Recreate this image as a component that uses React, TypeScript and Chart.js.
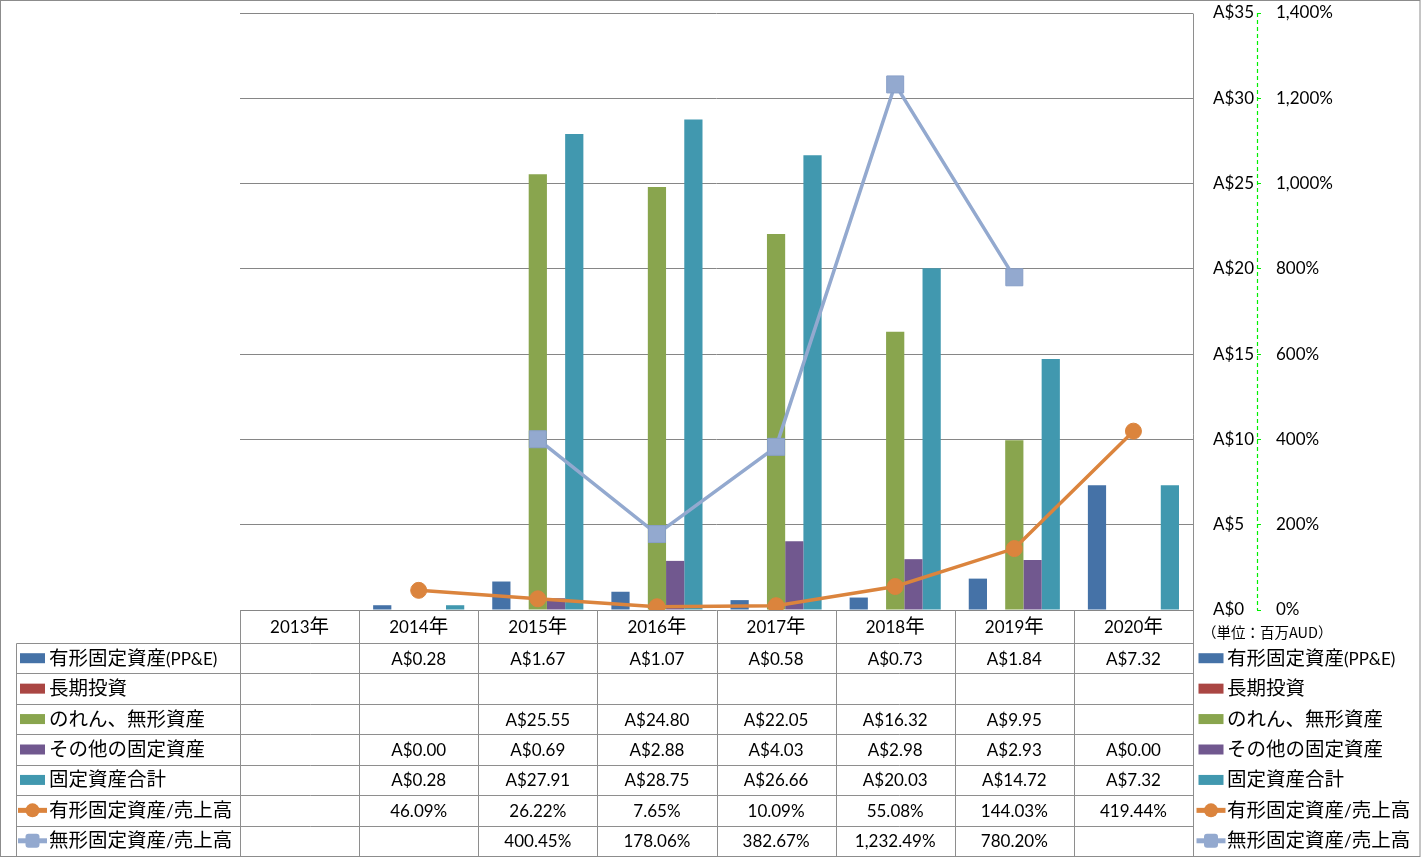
import React, { useEffect, useRef } from 'react';
import { Chart, registerables } from 'chart.js';

Chart.register(...registerables);

const categories = ['2013年', '2014年', '2015年', '2016年', '2017年', '2018年', '2019年', '2020年'];
const ppeValues: (number | null)[] = [null, 0.28, 1.67, 1.07, 0.58, 0.73, 1.84, 7.32];
const longTermInvValues: (number | null)[] = [null, null, null, null, null, null, null, null];
const goodwillValues: (number | null)[] = [null, null, 25.55, 24.8, 22.05, 16.32, 9.95, null];
const otherFixedValues: (number | null)[] = [null, 0.0, 0.69, 2.88, 4.03, 2.98, 2.93, 0.0];
const totalFixedValues: (number | null)[] = [null, 0.28, 27.91, 28.75, 26.66, 20.03, 14.72, 7.32];
const ppeRatioValues: (number | null)[] = [null, 46.09, 26.22, 7.65, 10.09, 55.08, 144.03, 419.44];
const intangibleRatioValues: (number | null)[] = [null, null, 400.45, 178.06, 382.67, 1232.49, 780.2, null];

const seriesNames = [
  '有形固定資産(PP&E)',
  '長期投資',
  'のれん、無形資産',
  'その他の固定資産',
  '固定資産合計',
  '有形固定資産/売上高',
  '無形固定資産/売上高',
];
const seriesColors = ['#4572A7', '#AA4643', '#89A54E', '#71588F', '#4198AF', '#DB843D', '#93A9CF'];
const unitLabel = '（単位：百万AUD）';

const LATIN = 'Lato, "Liberation Sans", sans-serif';
const CJK = '"Noto Sans CJK JP", sans-serif';
const LATIN_SIZE = 17;
const CJK_SIZE = 19.5;
const AXIS_GREEN = '#00F000';

const fmtMoney = (v: number) => 'A$' + v.toFixed(2);
const fmtPct = (v: number) =>
  v.toLocaleString('en-US', { minimumFractionDigits: 2, maximumFractionDigits: 2 }) + '%';

type Row = { name: string; color: string; kind: 'bar' | 'line'; marker?: 'circle' | 'rect'; values: (number | null)[]; fmt: (v: number) => string };

const rows: Row[] = [
  { name: seriesNames[0], color: seriesColors[0], kind: 'bar', values: ppeValues, fmt: fmtMoney },
  { name: seriesNames[1], color: seriesColors[1], kind: 'bar', values: longTermInvValues, fmt: fmtMoney },
  { name: seriesNames[2], color: seriesColors[2], kind: 'bar', values: goodwillValues, fmt: fmtMoney },
  { name: seriesNames[3], color: seriesColors[3], kind: 'bar', values: otherFixedValues, fmt: fmtMoney },
  { name: seriesNames[4], color: seriesColors[4], kind: 'bar', values: totalFixedValues, fmt: fmtMoney },
  { name: seriesNames[5], color: seriesColors[5], kind: 'line', marker: 'circle', values: ppeRatioValues, fmt: fmtPct },
  { name: seriesNames[6], color: seriesColors[6], kind: 'line', marker: 'rect', values: intangibleRatioValues, fmt: fmtPct },
];

const isCJK = (ch: string) => /[\u3000-\u9fff\uff00-\uffef]/.test(ch);

function drawMixed(ctx: CanvasRenderingContext2D, text: string, x: number, cy: number, align: 'left' | 'center') {
  const runs: { t: string; cjk: boolean }[] = [];
  for (const ch of text) {
    const c = isCJK(ch);
    if (runs.length && runs[runs.length - 1].cjk === c) runs[runs.length - 1].t += ch;
    else runs.push({ t: ch, cjk: c });
  }
  const fontOf = (c: boolean) => (c ? `${CJK_SIZE}px ${CJK}` : `${LATIN_SIZE}px ${LATIN}`);
  let total = 0;
  const widths = runs.map((r) => {
    ctx.font = fontOf(r.cjk);
    const w = ctx.measureText(r.t).width;
    total += w;
    return w;
  });
  let cx = align === 'center' ? x - total / 2 : x;
  ctx.textAlign = 'left';
  ctx.textBaseline = 'alphabetic';
  runs.forEach((r, i) => {
    ctx.font = fontOf(r.cjk);
    ctx.fillText(r.t, cx, cy + 6.5);
    cx += widths[i];
  });
}

function drawKey(ctx: CanvasRenderingContext2D, row: Row, cx: number, cy: number) {
  ctx.save();
  if (row.kind === 'bar') {
    ctx.fillStyle = row.color;
    ctx.fillRect(cx - 12.5, cy - 5, 25, 10);
  } else {
    ctx.strokeStyle = row.color;
    ctx.lineWidth = 5;
    ctx.beginPath();
    ctx.moveTo(cx - 14.5, cy);
    ctx.lineTo(cx + 14.5, cy);
    ctx.stroke();
    ctx.fillStyle = row.color;
    ctx.beginPath();
    if (row.marker === 'circle') {
      ctx.arc(cx, cy, 7, 0, Math.PI * 2);
    } else {
      const s = 7;
      const r = 3;
      ctx.moveTo(cx - s + r, cy - s);
      ctx.arcTo(cx + s, cy - s, cx + s, cy + s, r);
      ctx.arcTo(cx + s, cy + s, cx - s, cy + s, r);
      ctx.arcTo(cx - s, cy + s, cx - s, cy - s, r);
      ctx.arcTo(cx - s, cy - s, cx + s, cy - s, r);
      ctx.closePath();
    }
    ctx.fill();
  }
  ctx.restore();
}

const tablePlugin = {
  id: 'dataTable',
  afterDraw(chart: any) {
    const { ctx, chartArea: ca, scales } = chart;
    const xs = scales.x;
    const n = categories.length;
    const colW = (ca.right - ca.left) / n;
    const tableTop = ca.bottom;
    const headerBottom = tableTop + 33;
    const tableBottom = 856;
    const rowH = (tableBottom - headerBottom) / rows.length;
    const tableLeft = 16;

    ctx.save();
    // secondary axis dashed line
    const ax = Math.round(scales.y1.left) + 0.5;
    ctx.strokeStyle = AXIS_GREEN;
    ctx.lineWidth = 1.2;
    ctx.setLineDash([4, 3]);
    ctx.beginPath();
    ctx.moveTo(ax, ca.top);
    ctx.lineTo(ax, ca.bottom);
    ctx.stroke();
    ctx.setLineDash([]);

    ctx.strokeStyle = '#8E8E8E';
    ctx.lineWidth = 1;
    ctx.beginPath();
    for (let k = 0; k <= n; k++) {
      const x = Math.round(ca.left + k * colW) + 0.5;
      ctx.moveTo(x, k === n ? Math.round(ca.top) + 0.5 : tableTop);
      ctx.lineTo(x, tableBottom);
    }
    for (let i = 0; i < rows.length; i++) {
      const y = Math.round(headerBottom + i * rowH) + 0.5;
      ctx.moveTo(tableLeft + 0.5, y);
      ctx.lineTo(Math.round(ca.right) + 0.5, y);
    }
    ctx.moveTo(tableLeft + 0.5, Math.round(headerBottom) + 0.5);
    ctx.lineTo(tableLeft + 0.5, tableBottom);
    ctx.stroke();

    // outer border
    ctx.strokeStyle = '#8C8C8C';
    ctx.strokeRect(0.5, 0.5, 1419.5, 856);

    ctx.fillStyle = '#000';
    const headerCy = (tableTop + headerBottom) / 2;
    categories.forEach((c, i) => {
      drawMixed(ctx, c, xs.getPixelForValue(i), headerCy, 'center');
    });

    rows.forEach((row, r) => {
      const cy = headerBottom + (r + 0.5) * rowH;
      drawKey(ctx, row, 32.5, cy);
      ctx.fillStyle = '#000';
      drawMixed(ctx, row.name, 49, cy, 'left');
      row.values.forEach((v, i) => {
        if (v === null || v === undefined) return;
        ctx.fillStyle = '#000';
        drawMixed(ctx, row.fmt(v), xs.getPixelForValue(i), cy, 'center');
      });
      drawKey(ctx, row, 1211, cy);
      ctx.fillStyle = '#000';
      drawMixed(ctx, row.name, 1227, cy, 'left');
    });

    ctx.font = `14.5px ${CJK}`;
    ctx.textAlign = 'left';
    ctx.textBaseline = 'middle';
    ctx.fillStyle = '#000';
    ctx.fillText(unitLabel, 1202, 632);
    ctx.restore();
  },
};

export default function App() {
  const canvasRef = useRef<HTMLCanvasElement | null>(null);

  useEffect(() => {
    const canvas = canvasRef.current;
    if (!canvas) return;
    const barDs = (i: number, data: (number | null)[]) => ({
      type: 'bar' as const,
      label: seriesNames[i],
      data,
      backgroundColor: seriesColors[i],
      borderWidth: 0,
      yAxisID: 'y',
      order: 1,
      categoryPercentage: 0.765,
      barPercentage: 1.0,
    });
    const chart = new Chart(canvas, {
      data: {
        labels: categories,
        datasets: [
          barDs(0, ppeValues),
          barDs(1, longTermInvValues),
          barDs(2, goodwillValues),
          barDs(3, otherFixedValues),
          barDs(4, totalFixedValues),
          {
            type: 'line',
            label: seriesNames[5],
            data: ppeRatioValues,
            borderColor: seriesColors[5],
            backgroundColor: seriesColors[5],
            borderWidth: 3.5,
            pointStyle: 'circle',
            pointRadius: 8,
            pointBorderWidth: 1,
            pointBackgroundColor: seriesColors[5],
            pointBorderColor: seriesColors[5],
            tension: 0,
            yAxisID: 'y1',
            order: 0,
          },
          {
            type: 'line',
            label: seriesNames[6],
            data: intangibleRatioValues,
            borderColor: seriesColors[6],
            backgroundColor: seriesColors[6],
            borderWidth: 3.5,
            pointStyle: 'rect',
            pointRadius: 12,
            pointBorderWidth: 1,
            pointBackgroundColor: seriesColors[6],
            pointBorderColor: '#889FC8',
            tension: 0,
            yAxisID: 'y1',
            order: 0,
          },
        ] as any,
      },
      options: {
        animation: false,
        responsive: false,
        layout: { padding: { left: 240, top: 13, right: 0, bottom: 248 } },
        plugins: {
          legend: { display: false },
          tooltip: { enabled: false },
        },
        scales: {
          x: { type: 'category', display: false, grid: { display: false } },
          y: {
            position: 'right',
            min: 0,
            max: 35,
            ticks: {
              stepSize: 5,
              padding: 20,
              color: '#000',
              font: { family: LATIN, size: LATIN_SIZE },
              callback: (v: any) => 'A$' + v,
            },
            grid: { color: '#868686', lineWidth: 1, drawTicks: false },
            border: { display: false },
            afterFit: (s: any) => {
              s.width = 64;
              s.paddingTop = 0;
              s.paddingBottom = 0;
            },
          },
          y1: {
            position: 'right',
            min: 0,
            max: 1400,
            ticks: {
              stepSize: 200,
              padding: 15,
              color: '#000',
              font: { family: LATIN, size: LATIN_SIZE },
              callback: (v: any) => Number(v).toLocaleString('en-US') + '%',
            },
            grid: { drawOnChartArea: false, color: AXIS_GREEN, tickLength: 4 },
            border: { display: false },
            afterFit: (s: any) => {
              s.width = 164;
              s.paddingTop = 0;
              s.paddingBottom = 0;
            },
          },
        },
      } as any,
      plugins: [tablePlugin],
    });
    return () => chart.destroy();
  }, []);

  return (
    <div style={{ position: 'absolute', left: 0, top: 0, width: 1421, height: 858, background: '#fff' }}>
      <canvas ref={canvasRef} width={1421} height={858} style={{ display: 'block', width: 1421, height: 858 }} />
    </div>
  );
}
